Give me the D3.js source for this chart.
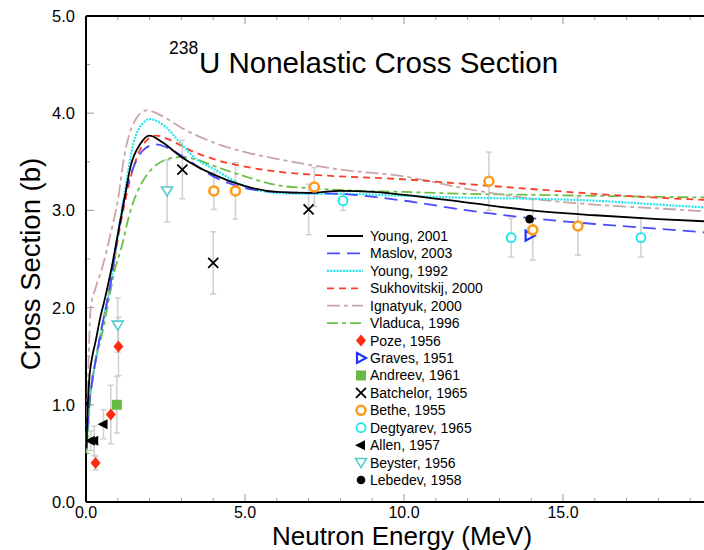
<!DOCTYPE html>
<html>
<head>
<meta charset="utf-8">
<script src="https://d3js.org/d3.v7.min.js"></script>
<style>
  body { margin: 0; background: white; }
  text { font-family: "Liberation Sans", Arial, Helvetica, sans-serif; }
</style>
</head>
<body onload="main()">
<script>
// evaluated curves (energy in MeV, cross section in b)
const youngE = [0.01,0.05,0.1,0.2,0.3,0.45,0.6,0.8,1.0,1.2,1.4,1.7,2.0,2.4,3,4,5,6,7,8,9,10,12,14,16,18,20];
const youngV = [0.55,0.95,1.25,1.5,1.65,1.9,2.1,2.4,2.75,3.1,3.45,3.68,3.77,3.7,3.55,3.37,3.25,3.19,3.18,3.2,3.19,3.16,3.08,3.0,2.95,2.91,2.88];
const maslovE = [0.01,0.1,0.2,0.3,0.5,0.8,1.0,1.2,1.5,1.8,2.2,2.6,3.2,4,5,6,7,8,10,12,14,16,18,20];
const maslovV = [0.55,1.0,1.25,1.45,1.8,2.3,2.75,3.12,3.45,3.62,3.68,3.64,3.52,3.35,3.23,3.19,3.18,3.17,3.1,3.0,2.92,2.86,2.81,2.76];
const young92E = [0.01,0.1,0.2,0.3,0.5,0.8,1.0,1.2,1.5,1.8,2.0,2.5,3.0,3.5,4,5,6,7,8,10,12,14,16,18,20];
const young92V = [0.55,1.0,1.25,1.45,1.8,2.3,2.75,3.15,3.7,3.9,3.94,3.86,3.68,3.52,3.43,3.25,3.18,3.17,3.17,3.15,3.13,3.12,3.1,3.06,3.02];
const sukhE = [0.01,0.1,0.2,0.3,0.5,0.8,1.0,1.2,1.5,1.8,2.2,2.6,3.2,4,5,6,7,8,10,12,14,16,18,20];
const sukhV = [0.55,1.0,1.25,1.45,1.8,2.3,2.7,3.05,3.45,3.68,3.77,3.73,3.63,3.53,3.45,3.4,3.37,3.35,3.32,3.27,3.22,3.17,3.13,3.1];
const ignE = [0.01,0.05,0.15,0.3,0.5,0.8,1.0,1.2,1.5,1.9,2.4,3,4,5,6,7,8,10,12,14,16,18,20];
const ignV = [0.6,1.1,2.0,2.2,2.4,2.8,3.1,3.55,3.9,4.03,3.97,3.85,3.7,3.6,3.53,3.47,3.42,3.35,3.22,3.12,3.06,3.02,2.98];
const vladE = [0.01,0.05,0.15,0.3,0.5,0.7,0.9,1.1,1.4,1.7,2.0,2.5,3.0,3.5,4,5,6,7,8,10,12,14,16,18,20];
const vladV = [0.5,0.65,1.15,1.45,1.72,2.05,2.38,2.6,3.0,3.25,3.4,3.52,3.55,3.52,3.46,3.35,3.26,3.23,3.21,3.19,3.17,3.16,3.15,3.14,3.13];

const curveNames = ['Young, 2001','Maslov, 2003','Young, 1992','Sukhovitskij, 2000','Ignatyuk, 2000','Vladuca, 1996'];
const curveColor = ['black','#4a4aff','#22e6ee','#ff3b26','#caa6a6','#6cbf46'];
const curveDash = ['none','13,7','2,1.2','7,5','13,4,4,4','11,4,4,4'];

// measurements: energy, value, error
const pozeE = [0.3,0.78,1.02], pozeV = [0.4,0.9,1.6], pozeErr = [0.07,0.3,0.3];
const gravesE = [13.95], gravesV = [2.74], gravesErr = [0];
const andreevE = [0.97], andreevV = [1.0], andreevErr = [0.29];
const batchE = [3.03,4.0,7.0], batchV = [3.42,2.46,3.01], batchErr = [0.3,0.32,0.26];
const betheE = [4.02,4.7,7.18,12.67,14.05,15.47], betheV = [3.2,3.2,3.24,3.3,2.8,2.84], betheErr = [0.19,0.29,0.2,0.3,0.31,0.3];
const degE = [8.08,13.37,17.45], degV = [3.1,2.72,2.72], degErr = [0.1,0.2,0.2];
const allenE = [0.15,0.26,0.55], allenV = [0.63,0.63,0.8], allenErr = [0.1,0.15,0.15];
const beysterE = [1.0,2.55], beysterV = [1.82,3.2], beysterErr = [0.28,0.32];
const lebedevE = [13.95], lebedevV = [2.91], lebedevErr = [0];

const pointNames = ['Poze, 1956','Graves, 1951','Andreev, 1961','Batchelor, 1965','Bethe, 1955','Degtyarev, 1965','Allen, 1957','Beyster, 1956','Lebedev, 1958'];

const xTicks = [0,5,10,15];
const yTicks = [0,1,2,3,4,5];

function marker(g, kind) {
  if (kind == 'diamond') g.append('path').attr('d','M0,-6L5,0L0,6L-5,0Z').attr('fill','#ff2a10');
  if (kind == 'right') g.append('path').attr('d','M-4,-5L5,0L-4,5Z').attr('fill','none').attr('stroke','#2233ff').attr('stroke-width',2.2);
  if (kind == 'square') g.append('rect').attr('x',-5).attr('y',-5).attr('width',10).attr('height',10).attr('fill','#66bb44');
  if (kind == 'cross') g.append('path').attr('d','M-5,-5L5,5M-5,5L5,-5').attr('stroke','black').attr('stroke-width',1.8);
  if (kind == 'orange') g.append('circle').attr('r',4.5).attr('fill','white').attr('stroke','#ff9a1a').attr('stroke-width',2.6);
  if (kind == 'cyan') g.append('circle').attr('r',4.5).attr('fill','white').attr('stroke','#11e8ee').attr('stroke-width',1.8);
  if (kind == 'left') g.append('path').attr('d','M-6,0L4,-5L4,5Z').attr('fill','black');
  if (kind == 'down') g.append('path').attr('d','M-5.5,-4L5.5,-4L0,5Z').attr('fill','white').attr('stroke','#55cccc').attr('stroke-width',1.6);
  if (kind == 'dot') g.append('circle').attr('r',4.3).attr('fill','black');
}

function main() {
  const svg = d3.select('body').append('svg').attr('width',704).attr('height',550);
  const x = d3.scaleLinear().domain([0,20]).range([86,722]);
  const y = d3.scaleLinear().domain([0,5]).range([502,16]);

  // ticks (inward)
  const ax = svg.append('g').attr('stroke','#999').attr('stroke-width',1);
  d3.range(0,21,1).forEach(function(v) {
    const len = v % 5 == 0 ? 8 : 4;
    ax.append('line').attr('x1',x(v)).attr('x2',x(v)).attr('y1',y(0)).attr('y2',y(0)-len);
    ax.append('line').attr('x1',x(v)).attr('x2',x(v)).attr('y1',y(5)).attr('y2',y(5)+len);
  });
  d3.range(0,5.01,0.5).forEach(function(v) {
    const len = Math.abs(v - Math.round(v)) < 0.01 ? 8 : 4;
    ax.append('line').attr('x1',x(0)).attr('x2',x(0)+len).attr('y1',y(v)).attr('y2',y(v));
  });

  svg.append('line').attr('x1',x(0)).attr('x2',x(20)).attr('y1',y(0)).attr('y2',y(0)).attr('stroke','black').attr('stroke-width',2);
  svg.append('line').attr('x1',x(0)).attr('x2',x(20)).attr('y1',y(5)).attr('y2',y(5)).attr('stroke','black').attr('stroke-width',2);
  svg.append('line').attr('x1',x(0)).attr('x2',x(0)).attr('y1',y(0)).attr('y2',y(5)).attr('stroke','black').attr('stroke-width',2);

  svg.selectAll('.xl').data(xTicks).enter().append('text')
    .text(function(d) { return d.toFixed(1) })
    .attr('x', function(d) { return x(d) })
    .attr('y', 518)
    .attr('text-anchor','middle')
    .attr('font-size',16);
  svg.selectAll('.yl').data(yTicks).enter().append('text')
    .text(function(d) { return d.toFixed(1) })
    .attr('x', 75)
    .attr('y', function(d) { return y(d) + 6 })
    .attr('text-anchor','end')
    .attr('font-size',16.5);

  // error bars
  const sets = [
    [pozeE,pozeV,pozeErr,'diamond'],[gravesE,gravesV,gravesErr,'right'],[andreevE,andreevV,andreevErr,'square'],
    [batchE,batchV,batchErr,'cross'],[betheE,betheV,betheErr,'orange'],[degE,degV,degErr,'cyan'],
    [allenE,allenV,allenErr,'left'],[beysterE,beysterV,beysterErr,'down'],[lebedevE,lebedevV,lebedevErr,'dot']
  ];
  const eb = svg.append('g').attr('stroke','#cfcfcf').attr('stroke-width',1.5);
  sets.forEach(function(s) {
    for (var i = 0; i < s[0].length; i++) {
      if (s[2][i] == 0) continue;
      const cx = x(s[0][i]), lo = y(s[1][i]-s[2][i]), hi = y(s[1][i]+s[2][i]);
      eb.append('line').attr('x1',cx).attr('x2',cx).attr('y1',lo).attr('y2',hi);
      eb.append('line').attr('x1',cx-3).attr('x2',cx+3).attr('y1',lo).attr('y2',lo);
      eb.append('line').attr('x1',cx-3).attr('x2',cx+3).attr('y1',hi).attr('y2',hi);
    }
  });

  // curves
  const curves = [[youngE,youngV],[maslovE,maslovV],[young92E,young92V],[sukhE,sukhV],[ignE,ignV],[vladE,vladV]];
  const line = d3.line().x(function(d) { return x(d[0]) }).y(function(d) { return y(d[1]) }).curve(d3.curveMonotoneX);
  [5,4,3,2,1,0].forEach(function(i) {
    const pts = curves[i][0].map(function(e, j) { return [e, curves[i][1][j]] });
    svg.append('path').datum(pts)
      .attr('fill','none')
      .attr('stroke',curveColor[i])
      .attr('stroke-width',i == 2 ? 2.2 : 1.8)
      .attr('stroke-dasharray',curveDash[i])
      .attr('d',line);
  });

  // data points
  sets.forEach(function(s) {
    for (var i = 0; i < s[0].length; i++) {
      marker(svg.append('g').attr('transform','translate(' + x(s[0][i]) + ',' + y(s[1][i]) + ')'), s[3]);
    }
  });

  // legend
  const rowY = d3.scaleLinear().domain([0,14]).range([236,480]);
  for (var i = 0; i < curveNames.length; i++) {
    svg.append('line').attr('x1',327).attr('x2',363).attr('y1',rowY(i)).attr('y2',rowY(i))
      .attr('stroke',curveColor[i]).attr('stroke-width',i == 2 ? 2.2 : 1.8).attr('stroke-dasharray',curveDash[i]);
    svg.append('text').text(curveNames[i]).attr('x',370).attr('y',rowY(i)+5).attr('font-size',14);
  }
  for (var i = 0; i < pointNames.length; i++) {
    marker(svg.append('g').attr('transform','translate(361,' + rowY(i+6) + ')'), sets[i][3]);
    svg.append('text').text(pointNames[i]).attr('x',370).attr('y',rowY(i+6)+5).attr('font-size',14);
  }

  // titles
  svg.append('text').text('238').attr('x',169).attr('y',54).attr('font-size',17.5);
  svg.append('text').text('U Nonelastic Cross Section').attr('x',199).attr('y',73).attr('font-size',29.5);
  svg.append('text').text('Neutron Energy (MeV)').attr('x',402).attr('y',545).attr('text-anchor','middle').attr('font-size',26);
  svg.append('text').text('Cross Section (b)').attr('transform','translate(40,264) rotate(-90)')
    .attr('text-anchor','middle').attr('font-size',27.5);
}
</script>
</body>
</html>
